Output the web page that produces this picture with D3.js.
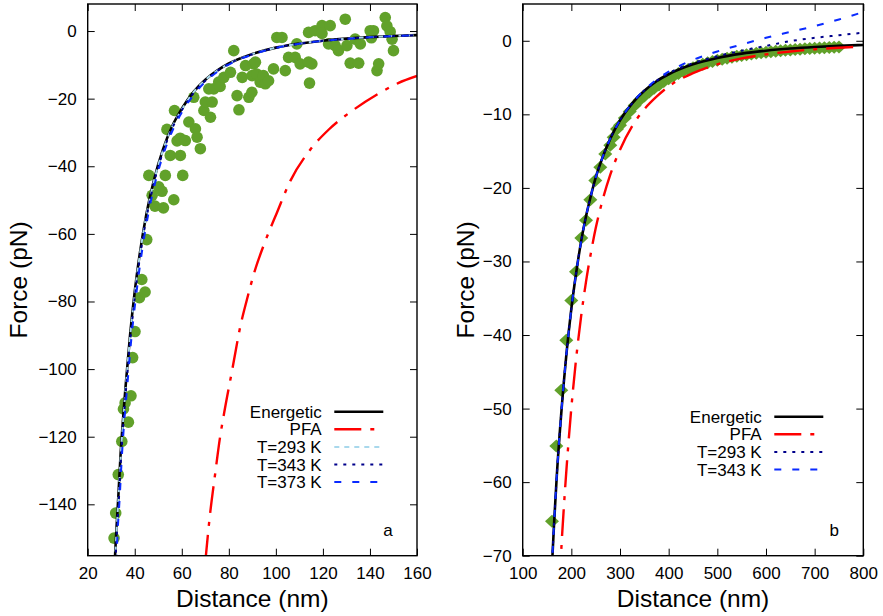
<!DOCTYPE html>
<html>
<head>
<meta charset="utf-8">
<script src="https://cdn.jsdelivr.net/npm/d3@7"></script>
<style>
body { margin: 0; background: #fff; }
text { font-family: "Liberation Sans", Arial, Helvetica, sans-serif; }
</style>
</head>
<body>
<div id="chart"></div>
<script>
// ---- panel a : distance (nm), force (pN)
var pointsA = [[31.2,-150.0],[31.9,-142.6],[33.0,-131.2],[34.5,-121.4],[35.2,-111.8],[35.9,-110.0],[37.3,-115.7],[38.4,-107.9],[39.1,-96.6],[40.1,-88.9],[42.0,-78.9],[43.0,-73.5],[44.4,-77.2],[45.1,-61.7],[46.0,-42.7],[47.4,-48.6],[48.6,-51.8],[50.2,-46.1],[51.6,-47.4],[52.2,-52.3],[53.0,-42.7],[53.7,-29.1],[55.1,-36.8],[56.6,-49.9],[56.9,-23.5],[58.0,-32.5],[59.4,-36.8],[59.3,-31.7],[60.4,-42.7],[61.5,-32.4],[63.0,-26.9],[65.1,-19.6],[65.8,-28.9],[66.5,-31.4],[67.9,-34.8],[69.4,-23.5],[70.0,-21.0],[71.5,-17.1],[72.2,-25.5],[72.9,-21.0],[73.6,-17.1],[75.7,-15.1],[76.3,-16.4],[77.9,-13.7],[80.7,-12.2],[82.1,-5.8],[83.5,-19.1],[84.3,-23.3],[85.7,-13.7],[87.1,-10.2],[88.5,-19.6],[89.8,-18.1],[89.9,-13.2],[90.5,-9.7],[91.3,-9.2],[91.9,-12.7],[93.3,-15.1],[94.7,-13.2],[95.5,-15.6],[96.9,-14.7],[99.0,-11.2],[100.4,-1.9],[102.6,-1.9],[104.0,-11.7],[105.4,-7.8],[108.2,-7.8],[108.9,-3.8],[110.3,-9.7],[113.9,-9.2],[113.9,-0.4],[114.3,-15.4],[115.3,-9.7],[116.7,0.1],[119.6,1.6],[119.6,-0.7],[122.4,-3.8],[123.1,1.6],[125.2,-4.3],[126.6,-5.8],[129.5,3.5],[130.2,-4.3],[131.6,-9.5],[133.7,-2.4],[135.2,-9.5],[135.9,-3.8],[140.1,0.1],[140.6,-2.0],[141.5,0.1],[143.0,-11.7],[143.7,-9.7],[146.5,4.0],[147.2,1.5],[148.6,-0.2],[149.4,-2.4],[150.0,-5.8]];

var energeticA = [[31.5,-157],[32,-150],[33,-138],[34,-125],[35,-115],[36,-106],[38,-90],[40,-77],[42,-66.5],[45,-54],[48,-44.5],[52,-35],[56,-28],[60,-23],[65,-18],[70,-14.4],[75,-11.7],[80,-9.6],[90,-6.8],[100,-4.9],[110,-3.7],[120,-2.85],[130,-2.25],[140,-1.8],[150,-1.46],[160,-1.2]];
var pfaA = [[70,-157],[72,-143],[74,-132],[76.3,-120],[78,-113],[81.5,-100],[85,-87],[87.7,-79.4],[91,-71],[94.7,-63.6],[100.4,-53.8],[106.1,-44.4],[114.6,-35.1],[122.4,-29.2],[133,-23.3],[144.4,-18.2],[152,-15.4],[160,-13.3]];
var t293A = [[31.6,-157],[32.1,-150],[33.1,-138],[34.1,-125],[35.1,-115],[36.1,-106],[38.1,-90],[40.1,-77],[42.1,-66.5],[45.1,-54],[48.1,-44.6],[52.1,-35.1],[56.1,-28.1],[60.1,-23.1],[65,-18.1],[70,-14.5],[75,-11.8],[80,-9.65],[90,-6.82],[100,-4.92],[110,-3.72],[120,-2.87],[130,-2.26],[140,-1.81],[150,-1.47],[160,-1.21]];
var t343A = [[31.8,-157],[32.3,-150],[33.3,-138],[34.3,-125],[35.3,-115],[36.3,-106],[38.3,-90],[40.3,-77],[42.3,-66.5],[45.3,-54],[48.3,-44.6],[52.3,-35.2],[56.3,-28.2],[60.2,-23.2],[65.2,-18.2],[70.1,-14.6],[75.1,-11.8],[80,-9.7],[90,-6.85],[100,-4.95],[110,-3.75],[120,-2.9],[130,-2.28],[140,-1.83],[150,-1.49],[160,-1.22]];
var t373A = [[32.2,-157],[32.6,-150],[33.6,-138],[34.6,-125],[35.6,-115],[36.7,-106],[38.7,-90],[40.8,-77],[42.8,-66.5],[45.8,-54],[48.8,-44.5],[52.8,-35.2],[56.8,-28.3],[60.7,-23.3],[65.6,-18.4],[70.5,-14.7],[75.4,-11.9],[80.3,-9.8],[90.2,-6.9],[100,-4.98],[110,-3.78],[120,-2.92],[130,-2.3],[140,-1.85],[150,-1.5],[160,-1.23]];

// ---- panel b
var pointsB = [[160.2,-65.3],[169.1,-55.1],[179.3,-47.5],[189.6,-40.7],[199.9,-35.3],[209.5,-31.4],[220.4,-26.8],[230.1,-24.4],[239,-21.6],[249.2,-19.0],[259.5,-17.2],[269.7,-15.4],[280,-14.2],[287,-13.1],[293.8,-12.0],[300,-11.5],[310,-10.5],[320,-9.6],[330,-8.8],[340,-8.1],[350,-7.5],[360,-6.95],[370,-6.45],[380,-6.0],[390,-5.55],[400,-5.15],[410,-4.8],[420,-4.45],[430,-4.15],[440,-3.9],[450,-3.65],[460,-3.4],[470,-3.2],[480,-3.0],[490,-2.82],[500,-2.65],[510,-2.5],[520,-2.36],[530,-2.23],[540,-2.11],[550,-2.0],[560,-1.9],[570,-1.8],[580,-1.71],[590,-1.63],[600,-1.55],[610,-1.48],[620,-1.41],[630,-1.35],[640,-1.29],[650,-1.24],[660,-1.19],[670,-1.14],[680,-1.1],[690,-1.06],[700,-1.02],[710,-0.98],[720,-0.95],[730,-0.92],[740,-0.89],[750,-0.86]];

var energeticB = [[158,-74.5],[160,-71.5],[165,-65],[170,-59.2],[180,-50],[190,-42.5],[200,-36.4],[210,-31.5],[220,-27.3],[230,-23.9],[240,-21.1],[250,-18.6],[260,-16.6],[280,-13.3],[300,-10.8],[325,-8.5],[350,-6.8],[375,-5.5],[400,-4.55],[450,-3.2],[500,-2.33],[550,-1.75],[600,-1.35],[650,-1.06],[700,-0.85],[750,-0.69],[800,-0.57]];
var pfaB = [[176,-74],[178.7,-70],[185,-63],[190,-58.2],[200,-49.9],[210,-43.1],[220,-37.5],[230,-32.8],[240,-28.9],[250,-25.5],[260,-22.7],[280,-18.2],[300,-14.8],[325,-11.6],[350,-9.3],[375,-7.6],[400,-6.2],[450,-4.4],[500,-3.2],[550,-2.4],[600,-1.85],[650,-1.45],[700,-1.16],[750,-0.95],[780,-0.84]];
var t293B = [[158,-74.5],[160,-71.5],[165,-65],[170,-59.2],[180,-50],[190,-42.5],[200,-36.4],[210,-31.5],[220,-27.3],[230,-23.9],[240,-21.1],[250,-18.6],[260,-16.6],[280,-13.3],[300,-10.8],[325,-8.5],[350,-6.75],[375,-5.45],[400,-4.4],[450,-3.05],[500,-2.1],[550,-1.35],[600,-0.7],[650,-0.05],[700,0.4],[750,0.75],[800,1.1]];
var t343B = [[158,-74.5],[160,-71.5],[165,-65],[170,-59.2],[180,-50],[190,-42.5],[200,-36.4],[210,-31.5],[220,-27.3],[230,-23.9],[240,-21.1],[250,-18.6],[260,-16.6],[280,-13.3],[300,-10.8],[325,-8.45],[350,-6.7],[375,-5.3],[400,-4.2],[450,-2.6],[500,-1.45],[550,-0.5],[600,0.4],[650,1.2],[700,2.0],[750,2.9],[800,3.9]];

var ticksAx = [20, 40, 60, 80, 100, 120, 140, 160];
var ticksAy = [0, -20, -40, -60, -80, -100, -120, -140];
var ticksBx = [100, 200, 300, 400, 500, 600, 700, 800];
var ticksBy = [0, -10, -20, -30, -40, -50, -60, -70];

var green = "#61a12a";

var svg = d3.select("#chart")
	.append("svg")
		.attr("width", 883)
		.attr("height", 616);

function drawPanel(cfg) {

	var x = d3.scaleLinear().domain(cfg.xDomain).range([cfg.left, cfg.right]);
	var y = d3.scaleLinear().domain(cfg.yDomain).range([cfg.bottom, cfg.top]);

	var g = svg.append("g");

	g.append("clipPath")
		.attr("id", cfg.id + "-clip")
	.append("rect")
		.attr("x", cfg.left)
		.attr("y", cfg.top)
		.attr("width", cfg.right - cfg.left)
		.attr("height", cfg.bottom - cfg.top);

	// ticks point inwards on all four sides
	var fmt = d3.format("d");
	function styleAxis(a) {
		a.select(".domain").remove();
		a.selectAll(".tick line").attr("stroke", "#000").attr("stroke-width", 1);
		a.selectAll("text").attr("font-size", 17).attr("font-family", "Liberation Sans, Arial, sans-serif");
	}

	g.append("g")
		.attr("transform", "translate(0," + cfg.bottom + ")")
		.call(d3.axisBottom(x).tickValues(cfg.xTicks).tickSize(-7).tickPadding(11).tickFormat(fmt))
		.call(styleAxis);
	g.append("g")
		.attr("transform", "translate(0," + cfg.top + ")")
		.call(d3.axisTop(x).tickValues(cfg.xTicks).tickSize(-7).tickFormat(""))
		.call(styleAxis);
	g.append("g")
		.attr("transform", "translate(" + cfg.left + ",0)")
		.call(d3.axisLeft(y).tickValues(cfg.yTicks).tickSize(-7).tickPadding(11).tickFormat(fmt))
		.call(styleAxis);
	g.append("g")
		.attr("transform", "translate(" + cfg.right + ",0)")
		.call(d3.axisRight(y).tickValues(cfg.yTicks).tickSize(-7).tickFormat(""))
		.call(styleAxis);

	var plot = g.append("g").attr("clip-path", "url(#" + cfg.id + "-clip)");

	// measured points
	if (cfg.shape == "circle") {
		plot.selectAll("circle")
			.data(cfg.points)
			.enter()
			.append("circle")
				.attr("cx", function(d){ return x(d[0]) })
				.attr("cy", function(d){ return y(d[1]) })
				.attr("r", 5.8)
				.attr("fill", green);
	} else {
		plot.selectAll("path.pt")
			.data(cfg.points)
			.enter()
			.append("path")
				.attr("class", "pt")
				.attr("d", "M0,-6.5L7,0L0,6.5L-7,0Z")
				.attr("transform", function(d){ return "translate(" + x(d[0]) + "," + y(d[1]) + ")" })
				.attr("fill", green);
	}

	var line = d3.line()
		.x(function(d){ return x(d[0]) })
		.y(function(d){ return y(d[1]) })
		.curve(d3.curveMonotoneX);

	cfg.series.forEach(function(s){
		plot.append("path")
			.attr("d", line(s.data))
			.attr("fill", "none")
			.attr("stroke", s.color)
			.attr("stroke-width", s.width)
			.attr("stroke-dasharray", s.dash);
	});

	// frame
	g.append("rect")
		.attr("x", cfg.left)
		.attr("y", cfg.top)
		.attr("width", cfg.right - cfg.left)
		.attr("height", cfg.bottom - cfg.top)
		.attr("fill", "none")
		.attr("stroke", "#000")
		.attr("stroke-width", 1.4);

	// legend
	var legend = g.append("g")
		.attr("transform", "translate(" + cfg.legendX + "," + cfg.legendY + ")");

	cfg.series.forEach(function(s, i){
		var row = legend.append("g")
			.attr("transform", "translate(0," + (i * 17.6) + ")");
		row.append("text")
			.attr("x", 0)
			.attr("y", 6)
			.attr("text-anchor", "end")
			.attr("font-size", 17)
			.text(s.name);
		row.append("line")
			.attr("x1", 12.6)
			.attr("x2", 61.6)
			.attr("y1", 0)
			.attr("y2", 0)
			.attr("stroke", s.color)
			.attr("stroke-width", s.width)
			.attr("stroke-dasharray", s.dash);
	});

	// panel letter
	g.append("text")
		.attr("x", cfg.right - 29)
		.attr("y", cfg.bottom - 20)
		.attr("text-anchor", "middle")
		.attr("font-size", 17)
		.text(cfg.letter);

	// x label
	g.append("text")
		.attr("x", (cfg.left + cfg.right) / 2)
		.attr("y", 607)
		.attr("text-anchor", "middle")
		.attr("font-size", 24.5)
		.text("Distance (nm)");

	// y label
	g.append("text")
		.attr("transform", "translate(" + cfg.yLabelX + "," + ((cfg.top + cfg.bottom) / 2) + ") rotate(-90)")
		.attr("text-anchor", "middle")
		.attr("font-size", 24.5)
		.text("Force (pN)");
}

drawPanel({
	id: "a",
	left: 87.7, right: 417, top: 4, bottom: 555.7,
	xDomain: [20, 160], yDomain: [-155.2, 8],
	xTicks: ticksAx, yTicks: ticksAy,
	points: pointsA, shape: "circle",
	legendX: 321.7, legendY: 411.7,
	yLabelX: 26.5,
	letter: "a",
	series: [
		{name: "Energetic", data: energeticA, color: "#000", width: 2.6, dash: null},
		{name: "PFA", data: pfaA, color: "#ff0000", width: 2.4, dash: "27,9,4,9"},
		{name: "T=293 K", data: t293A, color: "#a8d8ec", width: 2, dash: "5,5"},
		{name: "T=343 K", data: t343A, color: "#00008b", width: 2, dash: "3,6"},
		{name: "T=373 K", data: t373A, color: "#0a2aff", width: 2, dash: "7,11"}
	]
});

drawPanel({
	id: "b",
	left: 522.7, right: 863.3, top: 4, bottom: 555.7,
	xDomain: [100, 800], yDomain: [-70, 5],
	xTicks: ticksBx, yTicks: ticksBy,
	points: pointsB, shape: "diamond",
	legendX: 761.7, legendY: 416.7,
	yLabelX: 474,
	letter: "b",
	series: [
		{name: "Energetic", data: energeticB, color: "#000", width: 2.6, dash: null},
		{name: "PFA", data: pfaB, color: "#ff0000", width: 2.4, dash: "27,9,4,9"},
		{name: "T=293 K", data: t293B, color: "#00008b", width: 2, dash: "3,6"},
		{name: "T=343 K", data: t343B, color: "#0a2aff", width: 2, dash: "7,11"}
	]
});
</script>
</body>
</html>
